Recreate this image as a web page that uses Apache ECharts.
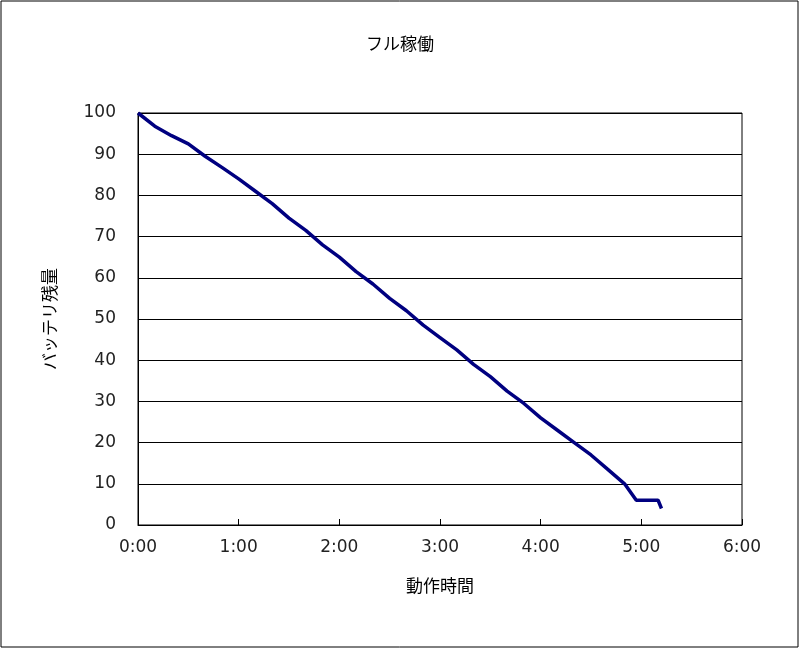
<!DOCTYPE html>
<html><head><meta charset="utf-8">
<script src="https://cdn.jsdelivr.net/npm/echarts@6/dist/echarts.min.js"></script>
<style>html,body{margin:0;padding:0;background:#fff}#c{width:800px;height:649px}</style>
</head><body><div id="c"></div>
<script>
const title = 'フル稼働';
const xName = '動作時間';
const yName = 'バッテリ残量';
const minutes = [0,10,20,30,40,50,60,70,80,90,100,110,120,130,140,150,160,170,180,190,200,210,220,230,240,250,260,270,280,290,297,310,312];
const battery = [100,96.8,94.5,92.5,89.5,86.8,84,81,78,74.5,71.5,68,65,61.5,58.5,55,52,48.5,45.5,42.5,39,36,32.5,29.5,26,23,20,17,13.5,10,6,6,4];
const data = minutes.map((m,i)=>[m,battery[i]]);
const font = "'Noto Sans CJK JP', sans-serif";
const chart = echarts.init(document.getElementById('c'));
chart.setOption({
  animation:false,
  title:{text:title,left:'center',top:30,textStyle:{fontFamily:font,fontSize:17,fontWeight:'normal',color:'#000'}},
  graphic:[{type:'rect',shape:{x:1,y:1,width:797,height:646},style:{fill:'none',stroke:'#000',lineWidth:1}},
    {type:'rect',shape:{x:138,y:113,width:604,height:412},style:{fill:'none',stroke:'#000',lineWidth:1},z:-1}],
  grid:{left:138,right:58,top:113,bottom:124},
  xAxis:{type:'value',min:0,max:360,interval:60,name:xName,nameLocation:'middle',nameGap:52,
    nameTextStyle:{fontFamily:font,fontSize:17,color:'#000'},
    axisLine:{lineStyle:{color:'#000'}},axisTick:{show:true,inside:true,length:6,lineStyle:{color:'#000'}},
    axisLabel:{formatter:v=>Math.floor(v/60)+':00',fontSize:17,color:'#222',margin:14,fontFamily:'DejaVu Sans'},
    splitLine:{show:false}},
  yAxis:{type:'value',min:0,max:100,interval:10,name:yName,nameLocation:'middle',nameGap:80,
    nameTextStyle:{fontFamily:font,fontSize:17,color:'#000'},
    axisLine:{show:true,lineStyle:{color:'#000'}},axisTick:{show:false},
    axisLabel:{fontSize:17,color:'#222',margin:22,fontFamily:'DejaVu Sans'},
    splitLine:{lineStyle:{color:'#000',width:1}}},
  series:[{type:'line',data:data,showSymbol:false,lineStyle:{color:'#000080',width:3.5}}]
});
</script></body></html>
